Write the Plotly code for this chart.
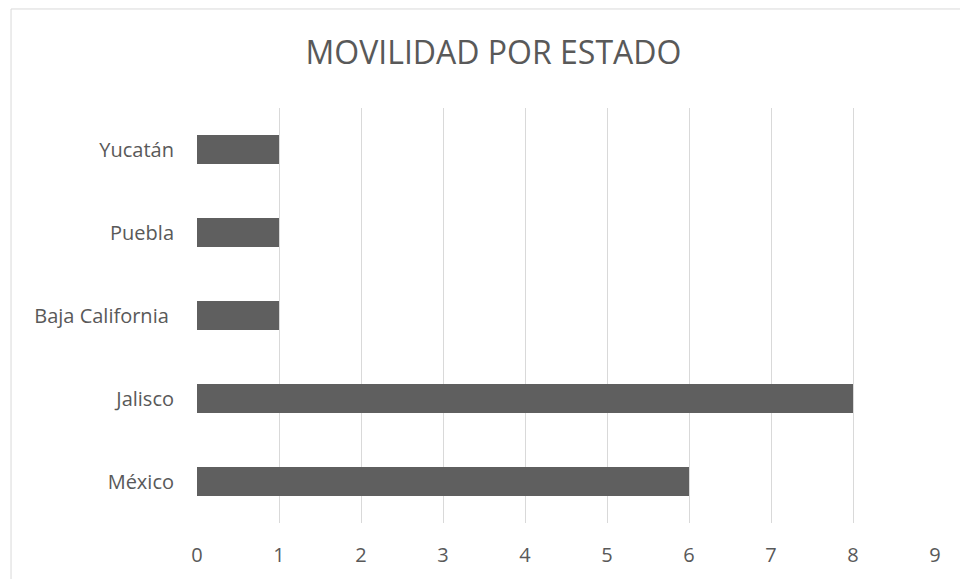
import plotly.graph_objects as go

# Movilidad por estado (bottom to top as drawn)
estados = ["México", "Jalisco", "Baja California\u00a0", "Puebla", "Yucatán"]
movilidad = [6, 8, 1, 1, 1]
x_ticks = [0, 1, 2, 3, 4, 5, 6, 7, 8, 9]

TEXT = "#595959"
FONT = "Open Sans"

fig = go.Figure(
    go.Bar(
        x=movilidad,
        y=estados,
        orientation="h",
        marker=dict(color="#5f5f5f", line=dict(width=0)),
        width=0.35,
    )
)

fig.update_layout(
    width=960,
    height=579,
    margin=dict(l=197, r=25, t=108, b=56),
    paper_bgcolor="white",
    plot_bgcolor="white",
    showlegend=False,
    font=dict(family=FONT, color=TEXT),
    title=dict(
        text="MOVILIDAD POR ESTADO",
        x=0.514,
        xanchor="center",
        y=0.908,
        yanchor="middle",
        font=dict(family=FONT, size=32, color=TEXT),
    ),
    xaxis=dict(
        range=[0, 9],
        tickvals=x_ticks,
        showgrid=True,
        gridcolor="#d9d9d9",
        gridwidth=1,
        zeroline=False,
        showline=False,
        ticks="",
        ticklabelstandoff=18,
        tickfont=dict(size=20, color=TEXT),
        fixedrange=True,
    ),
    yaxis=dict(
        categoryorder="array",
        categoryarray=estados,
        showgrid=False,
        zeroline=False,
        showline=False,
        ticks="",
        ticklabelstandoff=22,
        tickfont=dict(size=20, color=TEXT),
        fixedrange=True,
    ),
    shapes=[
        # chart frame: left and top edges
        dict(type="line", xref="paper", yref="paper",
             x0=-0.252, x1=-0.252, y0=-0.2, y1=1.2386,
             line=dict(color="#d9d9d9", width=1)),
        dict(type="line", xref="paper", yref="paper",
             x0=-0.252, x1=1.1, y0=1.2386, y1=1.2386,
             line=dict(color="#d9d9d9", width=1)),
    ],
)

fig.write_html("out.html")
